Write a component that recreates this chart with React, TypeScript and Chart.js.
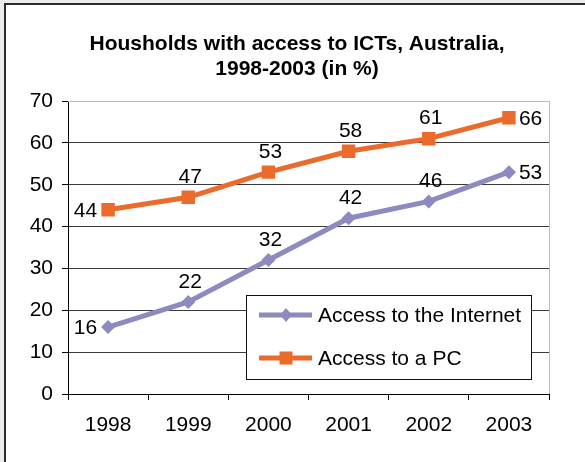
import React, { useEffect, useRef } from "react";
import { Chart, registerables } from "chart.js";

Chart.register(...registerables);

const titleLines = ["Housholds with access to ICTs, Australia,", "1998-2003 (in %)"];
const years = ["1998", "1999", "2000", "2001", "2002", "2003"];
const internetLabel = "Access to the Internet";
const internetValues = [16, 22, 32, 42, 46, 53];
const pcLabel = "Access to a PC";
const pcValues = [44, 47, 53, 58, 61, 66];
const yMin = 0;
const yMax = 70;
const yStep = 10;

const FONT = '"Liberation Sans", Arial, sans-serif';
const ORANGE = "#EB6B2C";
const PURPLE = "#8C8ABF";

const framePlugin = {
  id: "frame",
  beforeDraw(chart: any) {
    const { ctx, width, height } = chart;
    ctx.save();
    ctx.fillStyle = "#ececec";
    ctx.fillRect(0, 0, width, height);
    ctx.fillStyle = "#2b2b2b";
    ctx.fillRect(4, 3, width - 4, height - 3);
    ctx.fillStyle = "#ffffff";
    ctx.fillRect(6, 5, width - 6, height - 5);
    // title
    ctx.fillStyle = "#000";
    ctx.font = `bold 21px ${FONT}`;
    ctx.textAlign = "center";
    ctx.textBaseline = "alphabetic";
    ctx.fillText(titleLines[0], 297, 50);
    ctx.fillText(titleLines[1], 297, 75);
    ctx.restore();
  },
  beforeDatasetsDraw(chart: any) {
    const { ctx, chartArea } = chart;
    ctx.save();
    ctx.strokeStyle = "#bdbdbd";
    ctx.lineWidth = 1;
    ctx.beginPath();
    ctx.moveTo(chartArea.left, chartArea.top + 0.5);
    ctx.lineTo(chartArea.right + 0.5, chartArea.top + 0.5);
    ctx.lineTo(chartArea.right + 0.5, chartArea.bottom);
    ctx.stroke();
    ctx.restore();
  },
};

const labelsPlugin = {
  id: "valueLabels",
  afterDatasetsDraw(chart: any) {
    const { ctx } = chart;
    ctx.save();
    ctx.font = `21px ${FONT}`;
    ctx.fillStyle = "#000";
    ctx.textBaseline = "middle";
    chart.data.datasets.forEach((ds: any, di: number) => {
      const meta = chart.getDatasetMeta(di);
      meta.data.forEach((pt: any, i: number) => {
        const txt = String(ds.data[i]);
        if (i === 0) {
          ctx.textAlign = "right";
          ctx.fillText(txt, pt.x - 11, pt.y + 1);
        } else if (i === meta.data.length - 1) {
          ctx.textAlign = "left";
          ctx.fillText(txt, pt.x + 10, pt.y + 1);
        } else {
          ctx.textAlign = "center";
          ctx.fillText(txt, pt.x + 2, pt.y - 20);
        }
      });
    });
    ctx.restore();
  },
};

const legendPlugin = {
  id: "boxLegend",
  afterDraw(chart: any) {
    const { ctx } = chart;
    const x0 = 246, y0 = 295, w = 285, h = 84;
    ctx.save();
    ctx.fillStyle = "#fff";
    ctx.fillRect(x0, y0, w, h);
    ctx.strokeStyle = "#111";
    ctx.lineWidth = 1;
    ctx.strokeRect(x0 + 0.5, y0 + 0.5, w, h);
    const rows = [315, 358];
    chart.data.datasets.forEach((ds: any, di: number) => {
      const y = rows[di];
      ctx.strokeStyle = ds.borderColor;
      ctx.lineWidth = 5;
      ctx.beginPath();
      ctx.moveTo(259, y);
      ctx.lineTo(312, y);
      ctx.stroke();
      ctx.fillStyle = ds.borderColor;
      if (ds.pointStyle === "rect") {
        ctx.fillRect(286 - 6.5, y - 6.5, 13, 13);
      } else {
        ctx.beginPath();
        ctx.moveTo(286, y - 7);
        ctx.lineTo(292, y);
        ctx.lineTo(286, y + 7);
        ctx.lineTo(280, y);
        ctx.closePath();
        ctx.fill();
      }
      ctx.fillStyle = "#000";
      ctx.font = `21px ${FONT}`;
      ctx.textAlign = "left";
      ctx.textBaseline = "middle";
      ctx.fillText(ds.label, 318, y + 1);
    });
    ctx.restore();
  },
};

export default function App() {
  const ref = useRef<HTMLCanvasElement | null>(null);
  useEffect(() => {
    document.body.style.margin = "0";
    if (!ref.current) return;
    const chart = new Chart(ref.current, {
      type: "line",
      data: {
        labels: years,
        datasets: [
          {
            label: internetLabel,
            data: internetValues,
            borderColor: PURPLE,
            backgroundColor: PURPLE,
            borderWidth: 5,
            pointStyle: "rectRot",
            pointRadius: 7,
            pointBorderWidth: 0,
            tension: 0,
          },
          {
            label: pcLabel,
            data: pcValues,
            borderColor: ORANGE,
            backgroundColor: ORANGE,
            borderWidth: 5,
            pointStyle: "rect",
            pointRadius: 9.5,
            pointBorderWidth: 0,
            tension: 0,
          },
        ],
      },
      options: {
        responsive: false,
        animation: false,
        layout: { padding: { top: 101, right: 36, left: 0, bottom: 0 } },
        plugins: {
          legend: { display: false },
          title: { display: false },
          tooltip: { enabled: false },
        },
        scales: {
          x: {
            offset: true,
            afterFit: (s: any) => {
              s.height = 68;
            },
            grid: {
              offset: true,
              drawOnChartArea: false,
              drawTicks: true,
              tickLength: 6,
              color: "#000",
            },
            border: { display: true, color: "#000", width: 1 },
            ticks: {
              color: "#000",
              font: { family: FONT, size: 21 },
              padding: 13,
              maxRotation: 0,
            },
          },
          y: {
            min: yMin,
            max: yMax,
            afterFit: (s: any) => {
              s.width = 68;
            },
            ticks: {
              stepSize: yStep,
              color: "#000",
              font: { family: FONT, size: 21 },
              padding: 9,
            },
            grid: {
              color: (c: any) => (c.tick && c.tick.value === yMax ? "rgba(0,0,0,0)" : "#3a3a3a"),
              tickColor: "#000",
              tickLength: 6,
              lineWidth: 1,
            },
            border: { display: true, color: "#000", width: 1 },
          },
        },
      },
      plugins: [framePlugin, labelsPlugin, legendPlugin],
    });
    return () => chart.destroy();
  }, []);
  return (
    <div style={{ width: 585, height: 462 }}>
      <canvas ref={ref} width={585} height={462} style={{ display: "block", width: 585, height: 462 }} />
    </div>
  );
}
